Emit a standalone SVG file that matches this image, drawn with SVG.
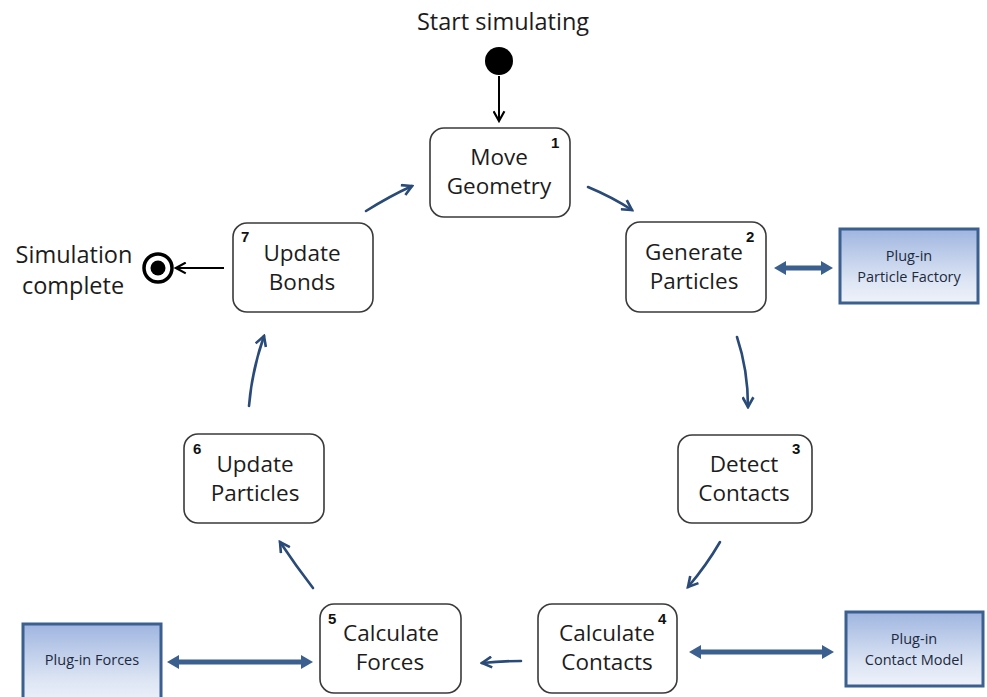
<svg xmlns="http://www.w3.org/2000/svg" width="987" height="697" viewBox="0 0 987 697">
  <style>
    .step { fill: #ffffff; stroke: #3a3a3a; stroke-width: 1.6; }
    .label { font-family: "Open Sans", "Liberation Sans", sans-serif; font-size: 22.5px; fill: #1c1c1c; text-anchor: middle; }
    .num { font-family: "Liberation Sans", sans-serif; font-size: 15px; font-weight: bold; fill: #111; }
    .plug { fill: url(#plugFill); stroke: #3b5f8e; stroke-width: 3; }
    .pluglabel { font-family: "Open Sans", "Liberation Sans", sans-serif; font-size: 14.5px; fill: #1c2a40; text-anchor: middle; }
    .flow { fill: none; stroke: #2a4a78; stroke-width: 2.6; stroke-linecap: round; marker-end: url(#chev); }
    .link { fill: none; stroke: #3b5f8e; stroke-width: 5; marker-start: url(#fatStart); marker-end: url(#fatEnd); }
    .term { fill: none; stroke: #000; stroke-width: 2; marker-end: url(#blackChev); }
    .side { font-family: "Open Sans", "Liberation Sans", sans-serif; font-size: 23.5px; fill: #1c1c1c; }
  </style>
  <defs>
    <linearGradient id="plugFill" x1="0" y1="0" x2="0" y2="1">
      <stop offset="0" stop-color="#9fb5e0"/>
      <stop offset="0.7" stop-color="#dde5f4"/>
      <stop offset="1" stop-color="#eef2fa"/>
    </linearGradient>
    <marker id="chev" viewBox="0 0 12 12" refX="10" refY="6" markerWidth="13" markerHeight="13" markerUnits="userSpaceOnUse" orient="auto">
      <path d="M1,1 L10,6 L1,11" fill="none" stroke="#2a4a78" stroke-width="2.4"/>
    </marker>
    <marker id="blackChev" viewBox="0 0 12 12" refX="10" refY="6" markerWidth="13" markerHeight="13" markerUnits="userSpaceOnUse" orient="auto">
      <path d="M1,1 L10,6 L1,11" fill="none" stroke="#000" stroke-width="2"/>
    </marker>
    <marker id="fatEnd" viewBox="0 0 12 14" refX="5" refY="7" markerWidth="12" markerHeight="14" markerUnits="userSpaceOnUse" orient="auto">
      <path d="M0,0 L12,7 L0,14 Z" fill="#3b5f8e"/>
    </marker>
    <marker id="fatStart" viewBox="0 0 12 14" refX="7" refY="7" markerWidth="12" markerHeight="14" markerUnits="userSpaceOnUse" orient="auto">
      <path d="M12,0 L0,7 L12,14 Z" fill="#3b5f8e"/>
    </marker>
  </defs>

  <!-- start and end markers -->
  <g id="start">
    <text x="503" y="30" class="side" text-anchor="middle">Start simulating</text>
    <circle cx="499" cy="61" r="14" fill="#000"/>
  </g>
  <g id="finish">
    <text x="74" y="263" class="side" text-anchor="middle">Simulation</text>
    <text x="73" y="294" class="side" text-anchor="middle">complete</text>
    <circle cx="158" cy="268" r="14" fill="none" stroke="#000" stroke-width="3.5"/>
    <circle cx="158" cy="268" r="7.5" fill="#000"/>
  </g>

  <!-- process steps -->
  <g id="step1">
    <rect class="step" x="430" y="128" width="140" height="89" rx="14"/>
    <text class="label" x="499" y="165">Move</text>
    <text class="label" x="499" y="194">Geometry</text>
    <text class="num" x="551" y="148">1</text>
  </g>
  <g id="step2">
    <rect class="step" x="626" y="222" width="140" height="90" rx="14"/>
    <text class="label" x="694" y="260">Generate</text>
    <text class="label" x="694" y="289">Particles</text>
    <text class="num" x="746" y="242">2</text>
  </g>
  <g id="step3">
    <rect class="step" x="678" y="435" width="134" height="88" rx="14"/>
    <text class="label" x="744" y="472">Detect</text>
    <text class="label" x="744" y="501">Contacts</text>
    <text class="num" x="792" y="454">3</text>
  </g>
  <g id="step4">
    <rect class="step" x="538" y="604" width="139" height="89" rx="14"/>
    <text class="label" x="607" y="641">Calculate</text>
    <text class="label" x="607" y="670">Contacts</text>
    <text class="num" x="658" y="624">4</text>
  </g>
  <g id="step5">
    <rect class="step" x="320" y="604" width="141" height="89" rx="14"/>
    <text class="label" x="391" y="641">Calculate</text>
    <text class="label" x="390" y="670">Forces</text>
    <text class="num" x="328" y="624">5</text>
  </g>
  <g id="step6">
    <rect class="step" x="184" y="434" width="140" height="89" rx="14"/>
    <text class="label" x="255" y="472">Update</text>
    <text class="label" x="255" y="501">Particles</text>
    <text class="num" x="193" y="454">6</text>
  </g>
  <g id="step7">
    <rect class="step" x="233" y="223" width="140" height="89" rx="14"/>
    <text class="label" x="302" y="261">Update</text>
    <text class="label" x="302" y="290">Bonds</text>
    <text class="num" x="241" y="242">7</text>
  </g>

  <!-- plug-in modules -->
  <g id="plugParticleFactory">
    <rect class="plug" x="840" y="229" width="138" height="74"/>
    <text class="pluglabel" x="909" y="261">Plug-in</text>
    <text class="pluglabel" x="909" y="282">Particle Factory</text>
  </g>
  <g id="plugContactModel">
    <rect class="plug" x="846" y="612" width="137" height="74"/>
    <text class="pluglabel" x="914" y="644">Plug-in</text>
    <text class="pluglabel" x="914" y="665">Contact Model</text>
  </g>
  <g id="plugForces">
    <rect class="plug" x="23" y="624" width="138" height="80"/>
    <text class="pluglabel" x="92" y="665">Plug-in Forces</text>
  </g>

  <!-- connectors -->
  <g id="connectors">
    <path class="term" d="M499,76 L499,121"/>
    <path class="term" d="M224,268 L176,268"/>
    <path class="flow" d="M588,187 Q612,197 632,210"/>
    <path class="flow" d="M737,337 Q748,370 748,407"/>
    <path class="flow" d="M720,542 Q706,566 688,587"/>
    <path class="flow" d="M521,661 Q502,661 482,663"/>
    <path class="flow" d="M313,588 Q296,566 280,542"/>
    <path class="flow" d="M249,406 Q252,370 264,336"/>
    <path class="flow" d="M366,211 Q390,196 412,186"/>
    <path class="link" d="M781,268 L826,268"/>
    <path class="link" d="M696,652 L827,652"/>
    <path class="link" d="M174,662 L306,662"/>
  </g>
</svg>
